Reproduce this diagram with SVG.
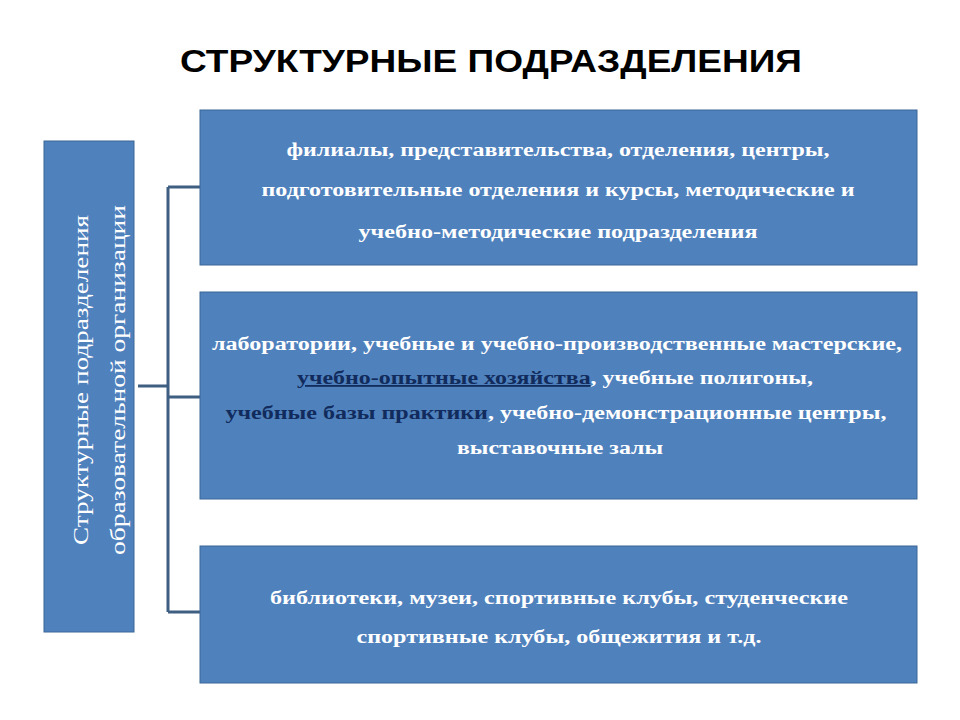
<svg xmlns="http://www.w3.org/2000/svg" width="960" height="720" viewBox="0 0 960 720">
<style>
.box{fill:#4f81bd;stroke:#3a6698;stroke-width:1}
.t{font-family:"Liberation Serif",serif;font-weight:bold;font-size:18px;fill:#fff;text-anchor:middle}
.d{fill:#112b5c}
.v{font-family:"Liberation Serif",serif;font-size:22px;fill:#fff;text-anchor:middle}
.c{stroke:#3f5f82;stroke-width:3;fill:none}
</style>
<rect width="960" height="720" fill="#fff"/>
<text x="491" y="72" font-family="Liberation Sans,Arial,sans-serif" font-weight="bold" font-size="31" text-anchor="middle" textLength="622" lengthAdjust="spacingAndGlyphs">СТРУКТУРНЫЕ ПОДРАЗДЕЛЕНИЯ</text>
<g id="root">
<rect class="box" x="44" y="141" width="90" height="491"/>
<text class="v" transform="translate(88,380) rotate(-90)" textLength="330" lengthAdjust="spacingAndGlyphs">Структурные подразделения</text>
<text class="v" transform="translate(125,380) rotate(-90)" textLength="350" lengthAdjust="spacingAndGlyphs">образовательной организации</text>
</g>
<g id="connectors">
<path class="c" d="M138 386H168M168 187V612M168 187H200M168 397H200M168 612H200"/>
</g>
<g id="n1">
<rect class="box" x="200" y="110" width="717" height="155"/>
<text class="t" x="558" y="156" textLength="543" lengthAdjust="spacingAndGlyphs">филиалы, представительства, отделения, центры,</text>
<text class="t" x="558" y="196" textLength="593" lengthAdjust="spacingAndGlyphs">подготовительные отделения и курсы, методические и</text>
<text class="t" x="558" y="238" textLength="399" lengthAdjust="spacingAndGlyphs">учебно-методические подразделения</text>
</g>
<g id="n2">
<rect class="box" x="200" y="292" width="717" height="207"/>
<text class="t" x="557" y="350" textLength="690" lengthAdjust="spacingAndGlyphs">лаборатории, учебные и учебно-производственные мастерские,</text>
<text class="t" x="555" y="384" textLength="516" lengthAdjust="spacingAndGlyphs"><tspan class="d" text-decoration="underline">учебно-опытные хозяйства</tspan>, учебные полигоны,</text>
<text class="t" x="556" y="419" textLength="661" lengthAdjust="spacingAndGlyphs"><tspan class="d">учебные базы практики</tspan>, учебно-демонстрационные центры,</text>
<text class="t" x="560" y="454" textLength="206" lengthAdjust="spacingAndGlyphs">выставочные залы</text>
</g>
<g id="n3">
<rect class="box" x="200" y="546" width="717" height="137"/>
<text class="t" x="559" y="604" textLength="578" lengthAdjust="spacingAndGlyphs">библиотеки, музеи, спортивные клубы, студенческие</text>
<text class="t" x="559" y="643" textLength="405" lengthAdjust="spacingAndGlyphs">спортивные клубы, общежития и т.д.</text>
</g>
</svg>
